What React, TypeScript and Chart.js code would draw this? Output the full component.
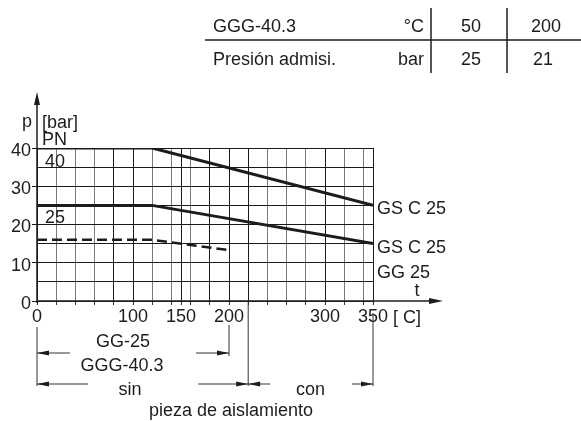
import React, { useEffect, useRef } from 'react';
import { Chart, registerables } from 'chart.js';

Chart.register(...registerables);

const FONT = '"Liberation Sans", Arial, sans-serif';
const INK = '#1c1c1c';

// Series: temperature (°C) -> admissible pressure (bar)
const pn40Temps = [0, 120, 350];
const pn40Pressures = [40, 40, 25];
const pn25Temps = [0, 120, 350];
const pn25Pressures = [25, 25, 15];
const gg25Temps = [0, 120, 200];
const gg25Pressures = [16, 16, 13.3];

// Axes
const xGridValues = [0, 20, 40, 60, 80, 100, 120, 140, 150, 160, 180, 200, 220, 240, 260, 280, 300, 320, 340, 350];
const xLabelValues = [0, 100, 150, 200, 300, 350];
const darkXGrid = [0, 80, 100, 150, 180, 200, 220, 300, 350];
const yMin = 0;
const yMax = 40;
const yGridStep = 5;
const yLabelStep = 10;

// Labels
const seriesEndLabels = ['GS C 25', 'GS C 25', 'GG 25'];
const pnLabels = ['40', '25'];

// Table
const tableMaterial = 'GGG-40.3';
const tableRowLabel = 'Presión admisi.';
const tableUnits = ['°C', 'bar'];
const tableTemps = ['50', '200'];
const tablePressures = ['25', '21'];

// Dimension ranges (°C)
const rangeCast = [0, 200];
const rangeWithout = [0, 220];
const rangeWith = [220, 350];

function toXY(xs: number[], ys: number[]) {
  return xs.map((x, i) => ({ x, y: ys[i] }));
}

function head(ctx: CanvasRenderingContext2D, x: number, y: number, dir: string, len = 12, half = 2.5) {
  ctx.beginPath();
  ctx.moveTo(x, y);
  if (dir === 'right') { ctx.lineTo(x - len, y - half); ctx.lineTo(x - len, y + half); }
  if (dir === 'left') { ctx.lineTo(x + len, y - half); ctx.lineTo(x + len, y + half); }
  if (dir === 'up') { ctx.lineTo(x - half, y + len); ctx.lineTo(x + half, y + len); }
  ctx.closePath();
  ctx.fill();
}

function seg(ctx: CanvasRenderingContext2D, x1: number, y1: number, x2: number, y2: number, w = 1) {
  ctx.lineWidth = w;
  ctx.beginPath();
  ctx.moveTo(x1, y1);
  ctx.lineTo(x2, y2);
  ctx.stroke();
}

function text(ctx: CanvasRenderingContext2D, s: string, x: number, y: number, align: CanvasTextAlign = 'left') {
  ctx.textAlign = align;
  ctx.textBaseline = 'alphabetic';
  ctx.fillText(s, x, y);
}

const annotationPlugin = {
  id: 'annotations',
  afterDraw(chart: any) {
    const { ctx, scales } = chart;
    const X = (v: number) => scales.x.getPixelForValue(v);
    const Y = (v: number) => scales.y.getPixelForValue(v);
    const x0 = X(0);
    const y0 = Y(0);
    const xEnd = X(350);
    ctx.save();
    ctx.strokeStyle = INK;
    ctx.fillStyle = INK;
    ctx.font = `18px ${FONT}`;

    // axes with arrows
    seg(ctx, x0, y0 + 2, x0, Y(40) - 50, 1.5);
    head(ctx, x0, Y(40) - 56, 'up', 13, 3);
    seg(ctx, x0, y0, xEnd + 62, y0, 1.5);
    head(ctx, xEnd + 70, y0, 'right', 14, 3);

    // axis labels
    text(ctx, 'p', x0 - 15, Y(40) - 21);
    text(ctx, '[bar]', x0 + 5, Y(40) - 20);
    text(ctx, 'PN', x0 + 5, Y(40) - 3);
    text(ctx, pnLabels[0], x0 + 8, Y(40) + 18.5);
    text(ctx, pnLabels[1], x0 + 8, Y(25) + 18);
    text(ctx, 't', xEnd + 44, y0 - 5, 'center');
    text(ctx, '[ C]', xEnd + 20, y0 + 22);

    // series end labels
    text(ctx, seriesEndLabels[0], xEnd + 4, Y(pn40Pressures[2]) + 9);
    text(ctx, seriesEndLabels[1], xEnd + 4, Y(pn25Pressures[2]) + 9);
    text(ctx, seriesEndLabels[2], xEnd + 4, Y(pn25Pressures[2]) + 34);

    // table
    seg(ctx, 205, 40, 581, 40, 1.5);
    seg(ctx, 431, 8, 431, 73, 1.5);
    seg(ctx, 507, 8, 507, 73, 1.5);
    text(ctx, tableMaterial, 213, 32);
    text(ctx, tableRowLabel, 213, 65);
    text(ctx, tableUnits[0], 424, 32, 'right');
    text(ctx, tableUnits[1], 424, 65, 'right');
    text(ctx, tableTemps[0], 471, 32, 'center');
    text(ctx, tableTemps[1], 546, 32, 'center');
    text(ctx, tablePressures[0], 471, 65, 'center');
    text(ctx, tablePressures[1], 543, 65, 'center');

    // dimension lines
    ctx.strokeStyle = '#333';
    ctx.fillStyle = INK;
    const a = X(rangeCast[0]);
    const b = X(rangeCast[1]);
    const c = X(rangeWith[0]);
    const d = X(rangeWith[1]);
    const r1 = y0 + 52;
    const r2 = y0 + 83;
    seg(ctx, a, y0 + 26, a, r2 + 2);
    seg(ctx, b, y0 + 24, b, r1 + 3);
    seg(ctx, X(rangeWithout[1]), y0, X(rangeWithout[1]), r2 + 2);
    seg(ctx, d, y0 + 12, d, r2 + 2);
    // row 1
    seg(ctx, a, r1, a + 33, r1);
    head(ctx, a, r1, 'left');
    seg(ctx, b - 33, r1, b, r1);
    head(ctx, b, r1, 'right');
    // row 2
    seg(ctx, a, r2, a + 51, r2);
    head(ctx, a, r2, 'left');
    seg(ctx, c - 50, r2, c, r2);
    head(ctx, c, r2, 'right');
    seg(ctx, c, r2, c + 22, r2);
    head(ctx, c, r2, 'left');
    seg(ctx, d - 21, r2, d, r2);
    head(ctx, d, r2, 'right');

    text(ctx, 'GG-25', a + 86, y0 + 46, 'center');
    text(ctx, 'GGG-40.3', a + 85, y0 + 70, 'center');
    text(ctx, 'sin', a + 93, y0 + 94, 'center');
    text(ctx, 'con', (c + d) / 2, y0 + 94, 'center');
    text(ctx, 'pieza de aislamiento', a + 194, y0 + 115, 'center');
    ctx.restore();
  },
};

export default function App() {
  const ref = useRef<HTMLCanvasElement | null>(null);
  useEffect(() => {
    if (!ref.current) return;
    const lineStyle = {
      borderColor: INK,
      borderWidth: 3,
      pointRadius: 0,
      tension: 0,
      fill: false,
    };
    const chart = new Chart(ref.current, {
      type: 'line',
      data: {
        datasets: [
          { label: 'PN 40', data: toXY(pn40Temps, pn40Pressures), ...lineStyle },
          { label: 'PN 25', data: toXY(pn25Temps, pn25Pressures), ...lineStyle },
          { label: 'GG 25', data: toXY(gg25Temps, gg25Pressures), ...lineStyle, borderWidth: 2.6, borderDash: [10, 5] },
        ],
      },
      options: {
        animation: false,
        responsive: false,
        maintainAspectRatio: false,
        layout: { padding: { left: 0, top: 148, right: 208, bottom: 0 } },
        plugins: { legend: { display: false }, tooltip: { enabled: false } },
        scales: {
          x: {
            type: 'linear',
            min: 0,
            max: 350,
            border: { display: false },
            afterBuildTicks: (scale: any) => {
              scale.ticks = xGridValues.map((v) => ({ value: v }));
            },
            afterFit: (scale: any) => {
              scale.height = 120;
            },
            grid: {
              color: (c: any) => (darkXGrid.includes(c.tick?.value) ? '#1a1a1a' : '#7a7a7a'),
              tickColor: '#333',
              lineWidth: 1,
              tickLength: 4,
            },
            ticks: {
              autoSkip: false,
              maxRotation: 0,
              minRotation: 0,
              padding: 1,
              color: INK,
              font: { family: FONT, size: 18 },
              callback: (v: any) => (xLabelValues.includes(Number(v)) ? String(v) : ''),
            },
          },
          y: {
            type: 'linear',
            min: yMin,
            max: yMax,
            border: { display: false },
            afterFit: (scale: any) => {
              scale.width = 37;
            },
            grid: {
              color: '#1a1a1a',
              lineWidth: 1,
              tickLength: 5,
              tickColor: (c: any) => (c.tick && c.tick.value % yLabelStep === 0 ? '#1a1a1a' : 'rgba(0,0,0,0)'),
            },
            ticks: {
              stepSize: yGridStep,
              autoSkip: false,
              padding: 1,
              labelOffset: 3,
              color: INK,
              font: { family: FONT, size: 18 },
              callback: (v: any) => (Number(v) % yLabelStep === 0 ? String(v) : ''),
            },
          },
        },
      },
      plugins: [annotationPlugin],
    } as any);
    return () => chart.destroy();
  }, []);
  return (
    <div style={{ position: 'fixed', left: 0, top: 0, width: 581, height: 421, background: '#fff' }}>
      <canvas ref={ref} width={581} height={421} style={{ display: 'block', width: 581, height: 421 }} />
    </div>
  );
}
